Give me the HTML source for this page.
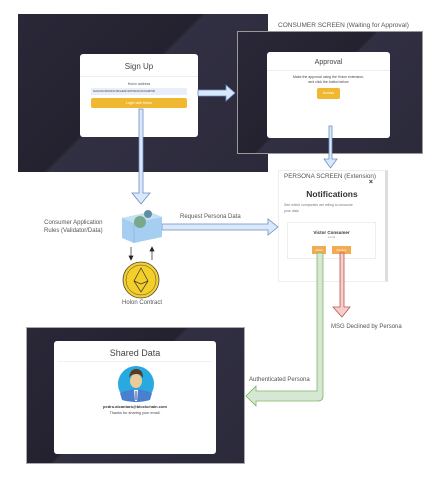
<!DOCTYPE html>
<html><head><meta charset="utf-8"><style>
*{margin:0;padding:0;box-sizing:border-box}
body{width:429px;height:487px;background:#fff;position:relative;overflow:hidden;font-family:"Liberation Sans",sans-serif;color:#444}
.a{position:absolute}
.dark{background:linear-gradient(135deg,#2a2838 0%,#24222f 45%,#312f42 46%,#2b2a3a 100%)}
.card{background:#fff;border-radius:3px}
.t{font-size:7px;color:#555;white-space:nowrap}
</style></head><body>
<div class="a dark" style="left:18px;top:14px;width:250px;height:158px"></div>
<div class="a dark" style="left:237px;top:31px;width:186px;height:123px;border:1px solid #999"></div>
<div class="a t" style="left:278px;top:22px;font-size:6.5px">CONSUMER SCREEN (Waiting for Approval)</div>

<div class="a card" style="left:80px;top:54px;width:118px;height:83px">
 <div style="text-align:center;font-size:8px;margin-top:8px;color:#444">Sign Up</div>
 <div style="border-top:1px solid #eee;margin:5px 0"></div>
 <div style="text-align:center;font-size:3.5px;color:#555">Holon address</div>
 <div style="margin:2px 11px 0;height:7px;background:#e9eefb;font-size:3px;line-height:7px;padding-left:2px">0x6C01C8A6F4C9FAE9C2097E4C0C0A9F5D</div>
 <div style="margin:3px 11px 0;height:10px;background:#f0b731;border-radius:2px;font-size:3.5px;color:#fff;text-align:center;line-height:10px">Login with Holon</div>
</div>

<div class="a card" style="left:267px;top:52px;width:123px;height:86px">
 <div style="text-align:center;font-size:7px;margin-top:7px">Approval</div>
 <div style="border-top:1px solid #eee;margin:4px 0"></div>
 <div style="text-align:center;font-size:3.5px;line-height:5px">Make the approval using the Holon extension,<br>and click the button below</div>
 <div style="margin:3px auto 0;width:23px;height:11px;background:#f0b731;border-radius:2px;font-size:3.5px;color:#fff;text-align:center;line-height:11px">Access</div>
</div>

<div class="a" style="left:278px;top:170px;width:110px;height:112px;background:#fff;border:1px solid #eee;border-right:3px solid #ddd">
 <div class="t" style="margin:2px 0 0 5px;font-size:6.3px">PERSONA SCREEN (Extension)</div>
 <div style="position:absolute;right:12px;top:8px;font-size:7px;font-weight:bold;color:#333">×</div>
 <div style="text-align:center;font-weight:bold;font-size:8.5px;margin-top:9px;color:#333">Notifications</div>
 <div style="font-size:3.5px;margin:3px 5px;line-height:6px;color:#777">See which companies are wiling to consume<br>your data</div>
 <div style="position:absolute;left:8px;top:51px;width:89px;height:37px;border:1px solid #eee">
  <div style="text-align:center;font-size:4.5px;font-weight:bold;margin-top:7px;color:#333">Victor Consumer</div>
  <div style="text-align:center;font-size:3px;color:#999">email</div>
  <div style="position:absolute;left:24px;top:23px;width:14px;height:8px;background:#f0ac4e;font-size:3px;color:#fff;text-align:center;line-height:8px">Allow</div>
  <div style="position:absolute;left:44px;top:23px;width:19px;height:8px;background:#f0ac4e;font-size:3px;color:#fff;text-align:center;line-height:8px">Decline</div>
 </div>
</div>

<div class="a dark" style="left:26px;top:327px;width:219px;height:137px;border:1px solid #aaa"></div>
<div class="a card" style="left:54px;top:341px;width:162px;height:113px">
 <div style="text-align:center;font-size:9px;margin-top:7px;color:#444">Shared Data</div>
 <div style="border-top:1px solid #f0f0f0;margin:3px 4px"></div>
 <div style="position:absolute;top:63px;width:100%;text-align:center;font-size:4px;font-weight:bold;color:#333">pedro.alcantara@blockchain.com</div>
 <div style="position:absolute;top:70px;width:100%;text-align:center;font-size:3.8px">Thanks for sharing your email.</div>
</div>

<div class="a t" style="left:44px;top:219px;text-align:center;line-height:8px;font-size:6px">Consumer Application<br>Rules (Validator/Data)</div>
<div class="a t" style="left:180px;top:214px;font-size:6px">Request Persona Data</div>
<div class="a t" style="left:122px;top:300px;font-size:6px">Holon Contract</div>
<div class="a t" style="left:331px;top:324px;font-size:6px">MSG Declined by Persona</div>
<div class="a t" style="left:249px;top:377px;font-size:6px">Authenticated Persona</div>

<svg class="a" style="left:0;top:0" width="429" height="487">
 <g fill="#dae8fc" stroke="#6c8ebf" stroke-width="0.8">
  <path d="M198,90H226V85L235,93L226,101V96H198Z"/>
  <path d="M139,109H143V193H150L141,204L132,193H139Z"/>
  <path d="M329,126H332V159H337L330.5,168L324,159H329Z"/>
  <path d="M162,224H268V219L278,227L268,235V230H162Z"/>
 </g>
 <path d="M317,253H323V396Q323,401,318,401H256V406L246,396L256,386V391H317Z" fill="#d5e8d4" stroke="#82b366" stroke-width="0.8"/>
 <path d="M340,253H344V307H350L342,317L333,307H340Z" fill="#f8cecc" stroke="#b85450" stroke-width="0.8"/>
 <g>
  <path d="M122,218L150,212L162,217V237L134,243L122,238Z" fill="#9cc9ef" opacity="0.9"/>
  <path d="M122,218L150,212L162,217L134,223Z" fill="#c3e0f7"/>
  <circle cx="140" cy="222" r="6" fill="#7aa88a"/><circle cx="148" cy="214" r="4" fill="#5f8f9f"/>
  <path d="M134,223V243" stroke="#7eb4e0" stroke-width="0.6"/>
 </g>
 <g stroke="#222" stroke-width="0.7" fill="#222">
  <path d="M131,247V257"/><path d="M129,256L131,260L133,256Z"/>
  <path d="M152,250V260"/><path d="M150,251L152,247L154,251Z"/>
 </g>
 <circle cx="141" cy="280" r="18" fill="#f4cf2a" stroke="#444" stroke-width="0.8"/>
 <circle cx="141" cy="280" r="15" fill="none" stroke="#444" stroke-width="0.5"/>
 <path d="M141,268L148,281L141,292L134,281Z M134,281L141,284L148,281" fill="none" stroke="#333" stroke-width="0.7"/>
 <circle cx="136" cy="384" r="18" fill="#27aae1"/>
 <path d="M120,393Q136,386,152,393L150,400Q136,404,122,400Z" fill="#4a7fd0"/>
 <path d="M134,390H138L137,401H135Z" fill="#fff"/><path d="M135.5,391H136.5V400H135.5Z" fill="#1b3b7a"/>
 <ellipse cx="136" cy="381" rx="6" ry="7" fill="#eacc99"/>
 <path d="M129,378Q130,369,136,369Q143,369,143,378Q140,373,136,374Q131,374,129,378Z" fill="#5a3a22"/>
</svg>
</body></html>
